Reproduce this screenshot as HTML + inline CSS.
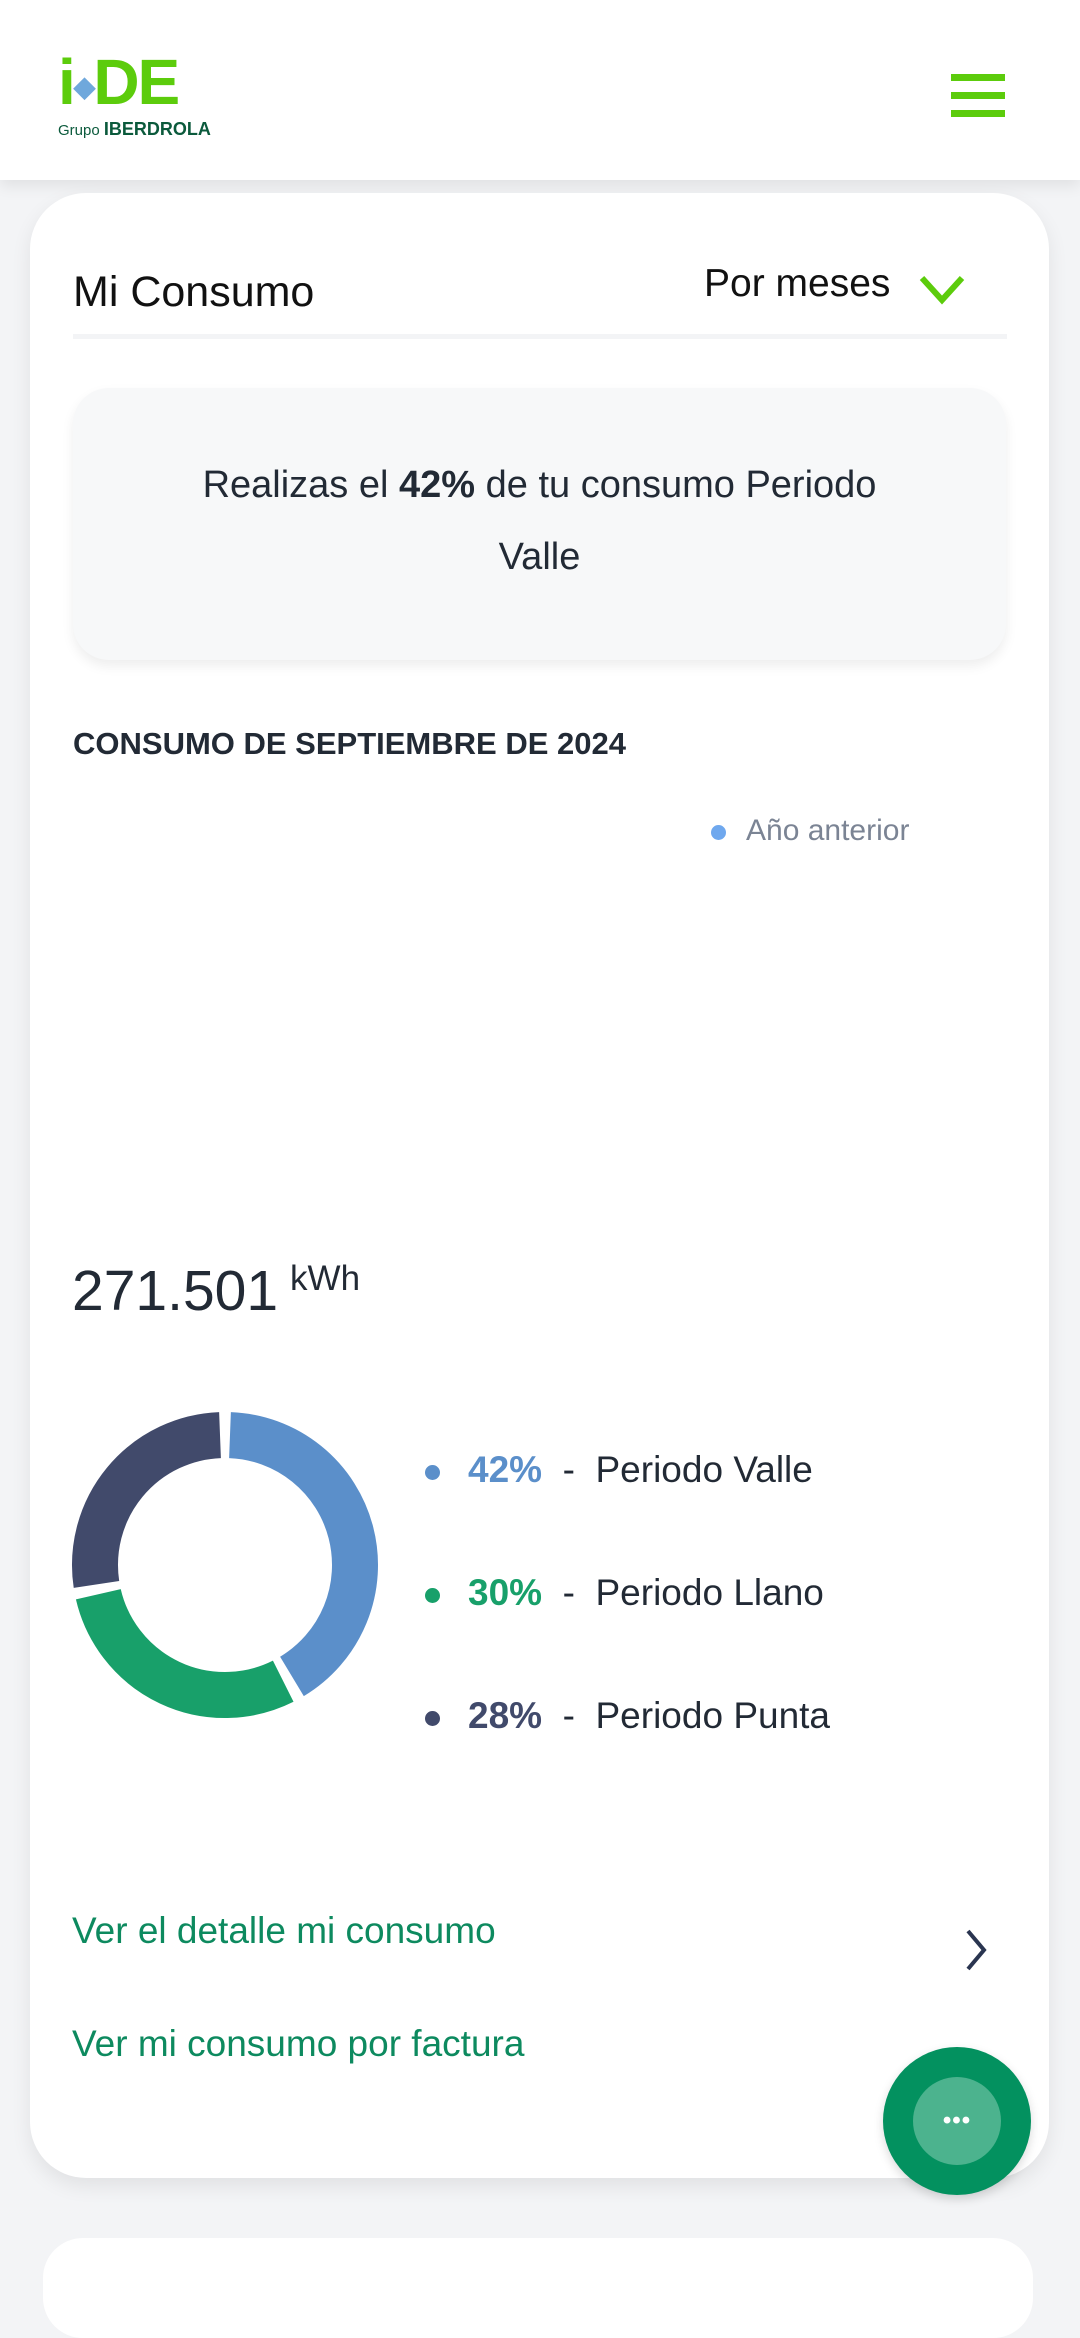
<!DOCTYPE html>
<html><head><meta charset="utf-8"><style>
body{margin:0;width:1080px;height:2267px;background:#f3f4f6;position:relative;overflow:hidden;font-family:"Liberation Sans",sans-serif;color:#222a35}
.abs{position:absolute}
</style></head><body>
<div class="abs" style="left:0;top:0;width:1080px;height:180px;background:#fff;box-shadow:0 6px 14px rgba(0,0,0,.08)">
  <div class="abs" style="left:58px;top:50px;">
    <div style="font-weight:bold;font-size:64px;color:#5ccc0c;line-height:64px;letter-spacing:-2px">i<span style="color:#6fa8dc;font-size:28px;vertical-align:middle">◆</span>DE</div>
    <div style="font-size:15px;color:#0b5a3c;margin-top:0px">Grupo <b style="font-size:18px">IBERDROLA</b></div>
  </div>
  <div class="abs" style="left:951px;top:74px;width:54px;height:36px">
    <div style="height:7px;background:#5ccc0c"></div><div style="height:7px;background:#5ccc0c;margin-top:11px"></div><div style="height:7px;background:#5ccc0c;margin-top:11px"></div>
  </div>
</div>
<div class="abs" style="left:30px;top:193px;width:1019px;height:1985px;background:#fff;border-radius:56px;box-shadow:0 8px 20px rgba(0,0,0,.08)"></div>
<div class="abs" style="left:73px;top:262px;font-size:43px;color:#111;line-height:60px">Mi Consumo</div>
<div class="abs" style="left:704px;top:254px;font-size:39px;color:#111;line-height:60px">Por meses</div>
<svg class="abs" style="left:918px;top:274px" width="50" height="32"><polyline points="4,4 24,26 44,4" fill="none" stroke="#5ccc0c" stroke-width="6"/></svg>
<div class="abs" style="left:73px;top:334px;width:934px;height:5px;background:#f3f4f6"></div>
<div class="abs" style="left:73px;top:388px;width:933px;height:272px;background:#f7f8f9;border-radius:36px;box-shadow:0 6px 12px rgba(0,0,0,.07)">
  <div style="text-align:center;font-size:38px;line-height:72px;color:#222a35;margin-top:61px">Realizas el <b>42%</b> de tu consumo Periodo<br>Valle</div>
</div>
<div class="abs" style="left:73px;top:726px;font-size:31px;font-weight:bold;color:#222a35">CONSUMO DE SEPTIEMBRE DE 2024</div>
<div class="abs" style="left:711px;top:814px;font-size:30px;color:#7b8494"><span style="display:inline-block;width:15px;height:15px;border-radius:50%;background:#6fa8ee;margin-right:20px;vertical-align:middle"></span>Año anterior</div>
<div class="abs" style="left:72px;top:1258px;font-size:57px;color:#222a35">271.501<sup style="font-size:35px;margin-left:12px">kWh</sup></div>
<svg class="abs" id="donut" style="left:0;top:1380px" width="460" height="380"></svg>
<div class="abs" id="legend" style="left:425px;top:1440px"></div>
<div class="abs" style="left:72px;top:1910px;font-size:37px;color:#0d8a5f">Ver el detalle mi consumo</div>
<svg class="abs" style="left:962px;top:1928px" width="30" height="44"><polyline points="6,3 22,22 6,41" fill="none" stroke="#2a3550" stroke-width="4"/></svg>
<div class="abs" style="left:72px;top:2023px;font-size:37px;color:#0d8a5f">Ver mi consumo por factura</div>
<div class="abs" style="left:883px;top:2047px;width:148px;height:148px;border-radius:50%;background:#03915f;box-shadow:0 4px 10px rgba(0,0,0,.15)">
  <div style="position:absolute;left:30px;top:30px;width:88px;height:88px;border-radius:50%;background:#4cb38e;text-align:center;color:#fff;font-size:24px;line-height:88px;font-weight:bold;letter-spacing:1px">•••</div>
</div>
<div class="abs" style="left:43px;top:2238px;width:990px;height:100px;background:#fff;border-radius:40px"></div>
<script>
const periods=["Periodo Valle","Periodo Llano","Periodo Punta"];
const shares=[42,30,28];
const colors=["#5b8fca","#18a06a","#414a6b"];
const svg=document.getElementById('donut');const NS="http://www.w3.org/2000/svg";
const cx=225,cy=185,r=130,sw=46,gap=2.2;
let acc=0;const total=shares.reduce((a,b)=>a+b,0);
function pt(a){return [cx+r*Math.sin(a*Math.PI/180),cy-r*Math.cos(a*Math.PI/180)];}
shares.forEach((v,i)=>{
  const a0=acc/total*360+gap,a1=(acc+v)/total*360-gap;acc+=v;
  const p0=pt(a0),p1=pt(a1);
  const p=document.createElementNS(NS,'path');
  p.setAttribute('d',`M${p0[0]},${p0[1]} A${r},${r} 0 ${a1-a0>180?1:0} 1 ${p1[0]},${p1[1]}`);
  p.setAttribute('fill','none');p.setAttribute('stroke',colors[i]);p.setAttribute('stroke-width',sw);
  
  
  svg.appendChild(p);
});
const lg=document.getElementById('legend');
periods.forEach((n,i)=>{
  const d=document.createElement('div');
  
  
  d.style.cssText='height:123px;font-size:37px;line-height:60px;color:#222a35';
  d.innerHTML=`<span style="display:inline-block;width:15px;height:15px;border-radius:50%;background:${colors[i]};vertical-align:middle;margin-right:28px"></span><b style="color:${colors[i]}">${shares[i]}%</b>&nbsp; - &nbsp;${n}`;
  lg.appendChild(d);
});
</script>
</body></html>
